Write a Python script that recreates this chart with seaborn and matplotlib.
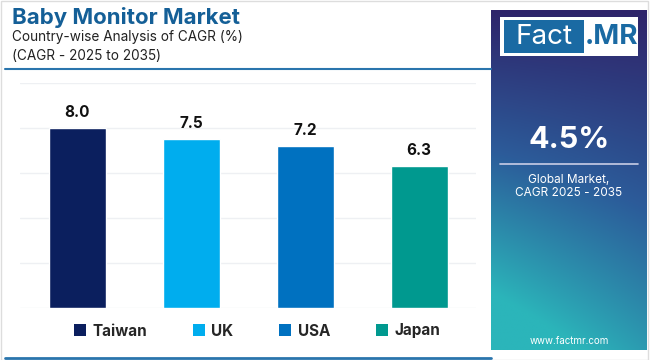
import numpy as np
import pandas as pd
import matplotlib.pyplot as plt
from matplotlib.patches import Patch, Rectangle
from matplotlib.lines import Line2D
import seaborn as sns

# Chart data
countries = ["Taiwan", "UK", "USA", "Japan"]
cagr = [8.0, 7.5, 7.2, 6.3]
colors = ["#0b1f5e", "#00adee", "#0071c0", "#00998f"]
global_cagr = "4.5%"

sns.set_style("white")
plt.rcParams['font.family'] = ['Inter', 'DejaVu Sans']

df = pd.DataFrame({"country": countries, "cagr": cagr})

fig = plt.figure(figsize=(6.5, 3.6), dpi=100)

# Main bar chart
ax = fig.add_axes([20 / 650, 1 - 308 / 360, 456 / 650, 225 / 360])
sns.barplot(data=df, x="country", y="cagr", hue="country", palette=colors,
            width=0.5, legend=False, ax=ax, saturation=1)
ax.set_xlim(-0.5, 3.5)
ax.set_ylim(0, 10)
ax.set_yticks([0, 2, 4, 6, 8, 10])
ax.grid(axis="y", color="#eef0f3", linewidth=1)
ax.set_axisbelow(True)
ax.set_xlabel("")
ax.set_ylabel("")
ax.set_xticks([])
ax.tick_params(left=False, labelleft=False)
for s in ax.spines.values():
    s.set_visible(False)

for container in ax.containers:
    ax.bar_label(container, fmt="%.1f", padding=6, fontsize=11,
                 fontweight="bold", color="#111111")

# Legend
handles = [Patch(facecolor=c, edgecolor="none") for c in colors]
fig.legend(handles, countries, loc="center", bbox_to_anchor=(257 / 650, 1 - 331 / 360),
           ncol=4, frameon=False, handlelength=0.8, handleheight=0.8,
           handletextpad=0.4, columnspacing=3.0,
           prop={"weight": "bold", "size": 11})

# Header text
fig.text(12 / 650, 1 - 17 / 360, "Baby Monitor Market", fontsize=16,
         fontweight="bold", color="#145f97", va="center")
fig.text(12 / 650, 1 - 37 / 360, "Country-wise Analysis of CAGR (%)",
         fontsize=9.8, color="#222222", va="center")
fig.text(12 / 650, 1 - 56 / 360, "(CAGR - 2025 to 2035)",
         fontsize=9.8, color="#222222", va="center")

# Header / footer lines and frame
fig.add_artist(Line2D([5 / 650, 491 / 650], [1 - 69 / 360, 1 - 69 / 360],
                      color="#2a75ad", linewidth=1.5))
fig.add_artist(Line2D([5 / 650, 491 / 650], [1 - 358 / 360, 1 - 358 / 360],
                      color="#2a75ad", linewidth=2))
fig.add_artist(Rectangle((1 / 650, 0), 647 / 650, 359 / 360, fill=False,
                         edgecolor="#dddddd", linewidth=1))

# Right side panel with gradient
pax = fig.add_axes([491 / 650, 1 - 350 / 360, 156 / 650, 340 / 360])
yy, xx = np.mgrid[0:1:200j, 0:1:100j]
t = np.clip(0.85 * yy + 0.35 * (1 - xx) * yy, 0, 1)
top = np.array([0x2f, 0x24, 0x6a]) / 255
mid = np.array([0x2c, 0x5c, 0x9a]) / 255
bot = np.array([0x2b, 0xb5, 0xba]) / 255
img = np.where(t[..., None] < 0.5,
               top + (mid - top) * (t[..., None] / 0.5),
               mid + (bot - mid) * ((t[..., None] - 0.5) / 0.5))
pax.imshow(img, aspect="auto", extent=(0, 1, 0, 1), origin="upper")
pax.set_xlim(0, 1)
pax.set_ylim(0, 1)
pax.axis("off")

# Logo
pax.add_patch(Rectangle((0.06, 0.865), 0.88, 0.115, facecolor="white",
                        edgecolor="none", transform=pax.transAxes))
pax.add_patch(Rectangle((0.085, 0.875), 0.51, 0.095, facecolor="#1a6aa3",
                        edgecolor="none", transform=pax.transAxes))
pax.text(0.34, 0.922, "Fact", color="white", fontsize=20, ha="center",
         va="center", transform=pax.transAxes)
pax.text(0.77, 0.922, ".MR", color="#1a6aa3", fontsize=20, fontweight="bold",
         ha="center", va="center", transform=pax.transAxes)

pax.text(0.5, 0.618, global_cagr, color="white", fontsize=22, fontweight="bold",
         ha="center", va="center", transform=pax.transAxes)
pax.plot([0.06, 0.94], [0.547, 0.547], color="#c9cde6", linewidth=1.2,
         transform=pax.transAxes)
pax.text(0.5, 0.5, "Global Market,", color="white", fontsize=8.5,
         ha="center", va="center", transform=pax.transAxes)
pax.text(0.5, 0.462, "CAGR 2025 - 2035", color="white", fontsize=8.5,
         ha="center", va="center", transform=pax.transAxes)
pax.text(0.5, 0.025, "www.factmr.com", color="white", fontsize=7,
         ha="center", va="center", transform=pax.transAxes)

fig.savefig("out.png", dpi=100)
